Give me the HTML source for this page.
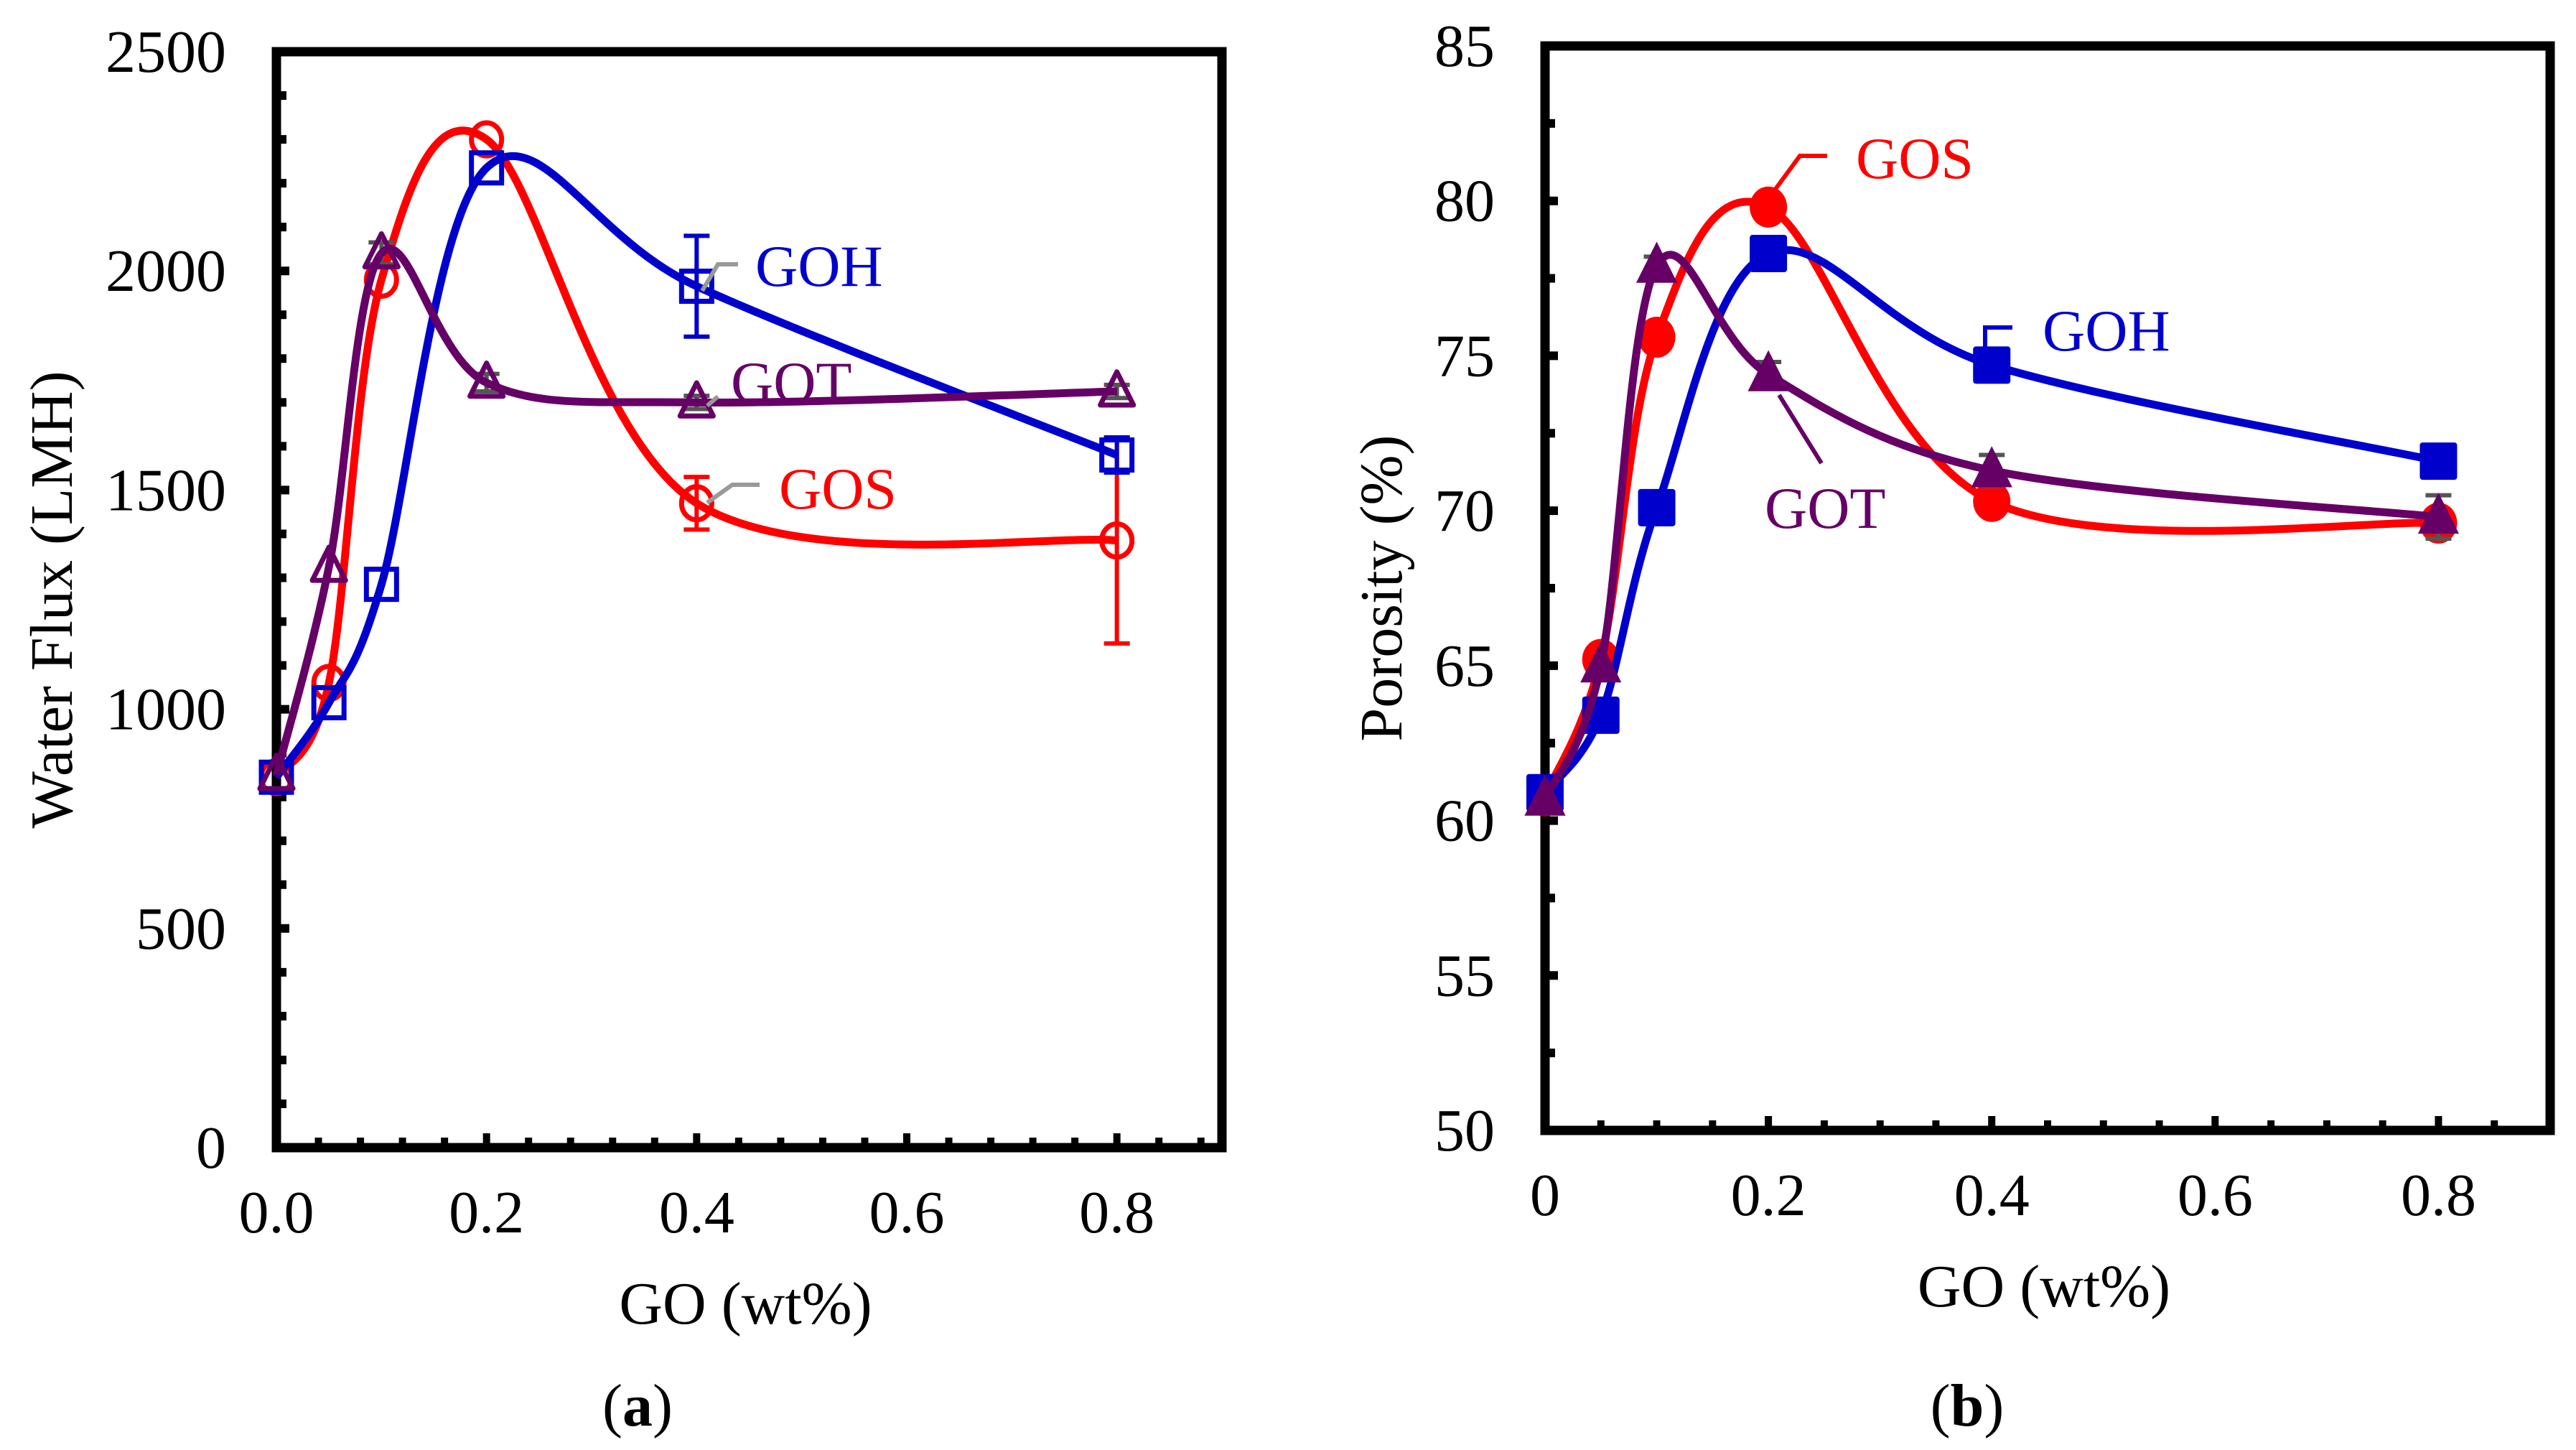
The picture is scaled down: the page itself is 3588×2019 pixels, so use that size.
<!DOCTYPE html>
<html><head><meta charset="utf-8"><style>
html,body{margin:0;padding:0;background:#fff;}
svg{display:block;font-family:"Liberation Serif",serif;}
</style></head><body>
<svg id="fig" width="3588" height="2019" viewBox="0 0 3588 2019" xmlns="http://www.w3.org/2000/svg"></svg>
<script>
const xCats = [0, 0.05, 0.1, 0.2, 0.4, 0.8];
// Panel (a) water flux
const fluxGOS = [845, 1060, 1980, 2300, 1470, 1385];
const fluxGOSerr = [0, 0, 0, 0, 60, 235];
const fluxGOH = [845, 1015, 1285, 2235, 1965, 1580];
const fluxGOHerr = [0, 0, 0, 0, 115, 40];
const fluxGOT = [850, 1325, 2040, 1745, 1700, 1725];
const fluxGOTerr = [0, 0, 25, 20, 15, 15];
const fluxTicks = [0, 500, 1000, 1500, 2000, 2500];
const fluxXTicks = ["0.0", "0.2", "0.4", "0.6", "0.8"];
// Panel (b) porosity
const porGOS = [60.8, 65.2, 75.6, 79.8, 70.3, 69.6];
const porGOSerr = [0, 0, 0, 0, 0.4, 0];
const porGOH = [60.9, 63.4, 70.1, 78.3, 74.7, 71.6];
const porGOHerr = [0, 0, 0, 0, 0.5, 0];
const porGOT = [60.7, 65.0, 77.9, 74.4, 71.3, 69.8];
const porGOTerr = [0, 0, 0.3, 0.4, 0.5, 0.7];
const porTicks = [50, 55, 60, 65, 70, 75, 80, 85];
const porXTicks = ["0", "0.2", "0.4", "0.6", "0.8"];

const NS = "http://www.w3.org/2000/svg";
const svg = document.getElementById('fig');
function mk(tag, attrs, parent, text){
  const e = document.createElementNS(NS, tag);
  for (const k in attrs) e.setAttribute(k, attrs[k]);
  if (text !== undefined) e.textContent = text;
  (parent || svg).appendChild(e);
  return e;
}
const RED = "#ff0000", BLUE = "#0000cc", PUR = "#660066", GRAY = "#555555";
const FF = '"Liberation Serif", serif';

function spline(pts){
  let d = "M" + pts[0][0] + "," + pts[0][1];
  for (let i = 0; i < pts.length - 1; i++){
    const p0 = pts[i-1] || pts[i], p1 = pts[i], p2 = pts[i+1], p3 = pts[i+2] || pts[i+1];
    const c1x = p1[0] + (p2[0]-p0[0])/6, c1y = p1[1] + (p2[1]-p0[1])/6;
    const c2x = p2[0] - (p3[0]-p1[0])/6, c2y = p2[1] - (p3[1]-p1[1])/6;
    d += " C" + c1x + "," + c1y + " " + c2x + "," + c2y + " " + p2[0] + "," + p2[1];
  }
  return d;
}

function panel(cfg){
  const g = mk('g', {}, svg);
  
  
  const L = cfg.L, R = cfg.R, T = cfg.T, B = cfg.B;
  const xs = v => L + (v - 0) / 0.9 * (R - L);
  const ys = v => B - (v - cfg.ymin) / (cfg.ymax - cfg.ymin) * (B - T);
  for (let v = cfg.ymin; v <= cfg.ymax + 1e-9; v += cfg.yminor){
    const y = ys(v);
    const isMaj = Math.abs(((v - cfg.ymin) / cfg.ymajor) - Math.round((v - cfg.ymin) / cfg.ymajor)) < 1e-6;
    const t = mk('line', {x1:L, x2:L + (isMaj ? 18 : 14), y1:y, y2:y, stroke:"#000", "stroke-width":12}, g);
    
    
  }
  for (let v = 0; v <= 0.9 + 1e-9; v += cfg.xminor){
    const x = xs(v);
    const isMaj = Math.abs(v/0.2 - Math.round(v/0.2)) < 1e-6;
    const t = mk('line', {x1:x, x2:x, y1:B, y2:B - (isMaj ? 20 : 14), stroke:"#000", "stroke-width":10}, g);
    
    
  }
  const fr = mk('rect', {x:L, y:T, width:R-L, height:B-T, fill:"none", stroke:"#000", "stroke-width":13}, g);
  
  
  cfg.yticks.forEach(v => {
    const t = mk('text', {x:L - 70, y:ys(v) + 28, "text-anchor":"end", "font-size":84, "font-family":FF}, g, String(v));
    
    
  });
  cfg.xticks.forEach((s, i) => {
    const t = mk('text', {x:xs(i*0.2), y:B + 118, "text-anchor":"middle", "font-size":84, "font-family":FF}, g, s);
    
    
  });
  const xt = mk('text', {x:(L+R)/2 - 5, y:B + 245, "text-anchor":"middle", "font-size":84, "font-family":FF}, g, "GO (wt%)");
  
  
  const yc = (T+B)/2;
  const yt = mk('text', {x:cfg.ytx, y:yc, "text-anchor":"middle", "font-size":84, "font-family":FF, transform:"rotate(-90 " + cfg.ytx + " " + yc + ")"}, g, cfg.ytitle);
  
  
  const cap = mk('text', {x:cfg.capx, y:1985, "text-anchor":"middle", "font-size":84, "font-family":FF}, g);
  
  
  mk('tspan', {}, cap, "(");
  mk('tspan', {"font-weight":"bold"}, cap, cfg.cap);
  mk('tspan', {}, cap, ")");

  cfg.series.forEach(s => {
    const sg = mk('g', {}, g);
    
    
    s.vals.forEach((v, i) => {
      if (!s.err[i]) return;
      const x = xs(xCats[i]);
      const e = mk('path', {d:"M" + x + "," + ys(v - s.err[i]) + "V" + ys(v + s.err[i]) + "M" + (x-18) + "," + ys(v - s.err[i]) + "h36M" + (x-18) + "," + ys(v + s.err[i]) + "h36", stroke:s.ecol, "stroke-width":6, fill:"none"}, sg);
      
      
    });
    const pts = s.vals.map((v, i) => [xs(xCats[i]), ys(v)]);
    const ln = mk('path', {d:spline(pts), stroke:s.col, "stroke-width":11, fill:"none"}, sg);
    
    
    pts.forEach(p => {
      const [x, y] = p;
      let m;
      const fill = cfg.filled ? s.col : "none";
      const sw = cfg.filled ? 0 : 7;
      const r = cfg.filled ? 26 : 21;
      if (s.shape === 'circle') m = mk('ellipse', {cx:x, cy:y, rx:r, ry:r*1.1, fill:fill, stroke:s.col, "stroke-width":sw}, sg);
      else if (s.shape === 'square') m = mk('rect', {x:x-r, y:y-r, width:2*r, height:2*r, fill:fill, stroke:s.col, "stroke-width":sw, rx:cfg.filled?4:0}, sg);
      else m = mk('polygon', {points:(x)+","+(y-r*1.3)+" "+(x-r*1.1)+","+(y+r*0.9)+" "+(x+r*1.1)+","+(y+r*0.9), fill:fill, stroke:s.col, "stroke-width":sw, "stroke-linejoin":"round"}, sg);
      
      
    });
  });
  cfg.labels.forEach(lb => {
    const ld = mk('path', {d:lb.lead, stroke:lb.lcol, "stroke-width":6, fill:"none"}, g);
    
    
    const t = mk('text', {x:lb.x, y:lb.y, "font-size":82, fill:lb.col, "font-family":FF}, g, lb.text);
    
    
  });
}

panel({name:'panel-a-water-flux', L:385, R:1702, T:72, B:1598, ymin:0, ymax:2500, yminor:100, ymajor:500, xminor:0.04,
  yticks:fluxTicks, xticks:fluxXTicks, ytitle:"Water Flux (LMH)", ytx:100, cap:"a", capx:888, filled:false,
  series:[
    {key:'gos', vals:fluxGOS, err:fluxGOSerr, col:RED, ecol:RED, shape:'circle'},
    {key:'goh', vals:fluxGOH, err:fluxGOHerr, col:BLUE, ecol:BLUE, shape:'square'},
    {key:'got', vals:fluxGOT, err:fluxGOTerr, col:PUR, ecol:GRAY, shape:'triangle'}
  ],
  labels:[
    {text:"GOH", x:1052, y:398, col:BLUE, lcol:"#999", lead:"M978,405 L1000,368 H1028"},
    {text:"GOT", x:1018, y:560, col:PUR, lcol:"#999", lead:"M985,565 L1000,552"},
    {text:"GOS", x:1085, y:708, col:RED, lcol:"#999", lead:"M985,700 L1020,675 H1058"}
  ]});

panel({name:'panel-b-porosity', L:2152, R:3552, T:64, B:1574, ymin:50, ymax:85, yminor:2.5, ymajor:5, xminor:0.05,
  yticks:porTicks, xticks:porXTicks, ytitle:"Porosity (%)", ytx:1952, cap:"b", capx:2740, filled:true,
  series:[
    {key:'gos', vals:porGOS, err:porGOSerr, col:RED, ecol:GRAY, shape:'circle'},
    {key:'goh', vals:porGOH, err:porGOHerr, col:BLUE, ecol:GRAY, shape:'square'},
    {key:'got', vals:porGOT, err:porGOTerr, col:PUR, ecol:GRAY, shape:'triangle'}
  ],
  labels:[
    {text:"GOS", x:2585, y:248, col:RED, lcol:RED, lead:"M2468,270 L2507,217 H2545"},
    {text:"GOH", x:2845, y:488, col:BLUE, lcol:BLUE, lead:"M2765,500 V456 H2803"},
    {text:"GOT", x:2458, y:735, col:PUR, lcol:PUR, lead:"M2478,550 L2537,645"}
  ]});
</script>
</body></html>
